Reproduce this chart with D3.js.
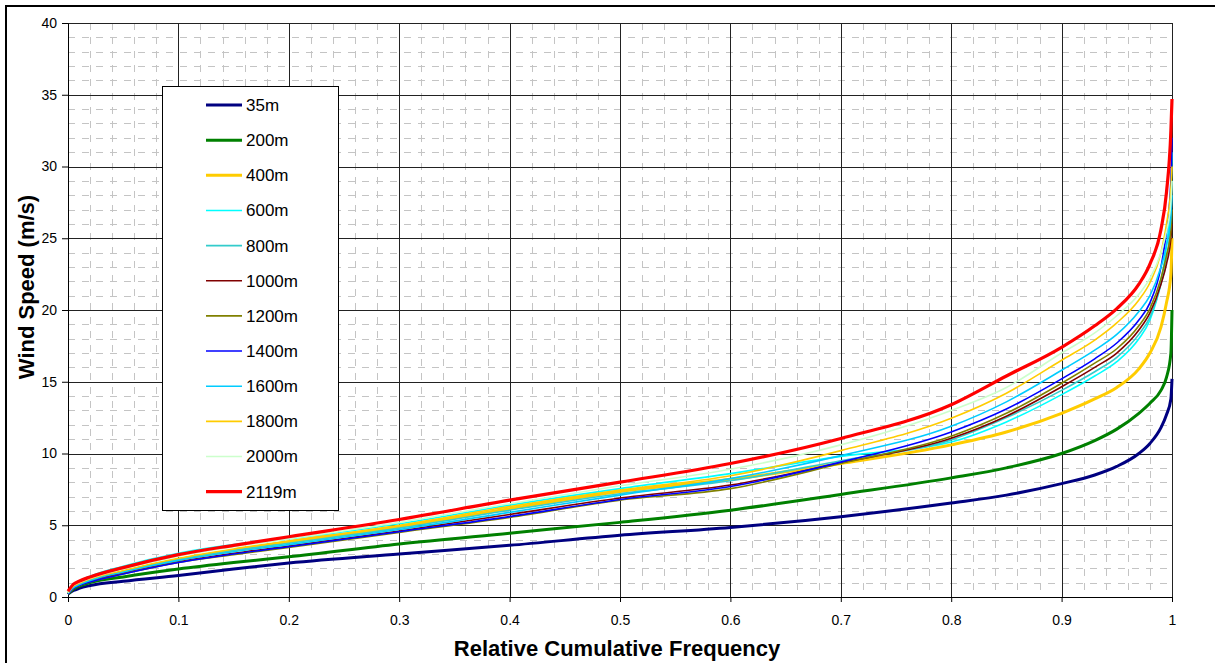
<!DOCTYPE html>
<html>
<head>
<meta charset="utf-8">
<script src="https://cdn.jsdelivr.net/npm/d3@7"></script>
<style>
  body { margin: 0; background: #fff; }
  svg { display: block; font-family: "Liberation Sans", Arial, sans-serif; }
</style>
</head>
<body>
<svg id="chart" width="1215" height="663"></svg>
<script>
// relative cumulative frequency at which each series was read
const freq = [0, 0.005, 0.01, 0.02, 0.05, 0.1, 0.15, 0.2, 0.3, 0.4, 0.5, 0.6, 0.7, 0.8, 0.85, 0.9, 0.93, 0.95, 0.97, 0.98, 0.99, 0.995, 0.999, 1];

const heights = ["35m", "200m", "400m", "600m", "800m", "1000m", "1200m", "1400m", "1600m", "1800m", "2000m", "2119m"];

const s35 = [0.2, 0.45, 0.6, 0.8, 1.1, 1.5, 1.95, 2.37, 3.0, 3.6, 4.3, 4.85, 5.6, 6.55, 7.1, 7.9, 8.5, 9.1, 10.0, 10.7, 11.8, 12.7, 13.8, 15.2];
const s200 = [0.2, 0.55, 0.75, 1.0, 1.4, 1.95, 2.4, 2.8, 3.7, 4.45, 5.2, 6.05, 7.15, 8.3, 9.0, 10.0, 10.9, 11.7, 12.8, 13.5, 14.4, 15.3, 17.0, 20.0];
const s400 = [0.25, 0.65, 0.85, 1.15, 1.75, 2.6, 3.25, 3.85, 4.9, 6.15, 7.35, 8.2, 9.3, 10.6, 11.5, 12.8, 13.8, 14.6, 15.9, 17.0, 18.8, 20.5, 22.5, 25.0];
const s600 = [0.3, 0.85, 1.1, 1.45, 2.15, 3.05, 3.65, 4.05, 5.1, 6.4, 7.55, 8.6, 9.8, 10.8, 12.2, 14.1, 15.4, 16.4, 18.0, 19.3, 22.0, 24.5, 28.0, 31.0];
const s800 = [0.25, 0.7, 0.9, 1.2, 1.8, 2.65, 3.25, 3.75, 4.8, 6.05, 7.2, 8.1, 9.5, 10.95, 12.5, 14.4, 15.7, 16.7, 18.3, 19.5, 21.8, 23.5, 26.5, 29.0];
const s1000 = [0.2, 0.6, 0.8, 1.1, 1.65, 2.45, 3.05, 3.55, 4.6, 5.75, 6.9, 7.8, 9.35, 11.06, 12.6, 14.65, 16.0, 17.0, 18.6, 19.8, 21.8, 23.2, 25.0, 26.0];
const s1200 = [0.2, 0.6, 0.8, 1.05, 1.6, 2.4, 2.95, 3.45, 4.5, 5.55, 6.75, 7.55, 9.3, 11.2, 12.8, 14.9, 16.3, 17.3, 18.9, 20.1, 22.2, 23.8, 25.5, 27.0];
const s1400 = [0.2, 0.6, 0.8, 1.05, 1.6, 2.4, 3.0, 3.5, 4.55, 5.6, 6.8, 7.7, 9.4, 11.5, 13.1, 15.2, 16.6, 17.7, 19.3, 20.5, 23.0, 25.5, 29.0, 32.0];
const s1600 = [0.25, 0.65, 0.85, 1.15, 1.75, 2.55, 3.15, 3.65, 4.7, 5.9, 7.1, 8.25, 9.85, 11.9, 13.6, 15.8, 17.2, 18.3, 19.9, 21.0, 23.0, 24.5, 26.5, 28.0];
const s1800 = [0.3, 0.75, 0.95, 1.25, 1.85, 2.7, 3.35, 3.9, 5.0, 6.3, 7.45, 8.45, 10.2, 12.45, 14.2, 16.5, 17.9, 19.1, 20.7, 21.9, 24.0, 26.0, 28.5, 30.0];
const s2000 = [0.3, 0.8, 1.0, 1.3, 1.95, 2.85, 3.5, 4.05, 5.2, 6.5, 7.75, 8.9, 10.6, 13.0, 14.6, 17.0, 18.4, 19.6, 21.1, 22.2, 24.0, 25.5, 27.5, 29.0];
const s2119 = [0.4, 0.9, 1.1, 1.4, 2.05, 2.95, 3.6, 4.2, 5.4, 6.75, 8.0, 9.3, 11.05, 13.4, 15.4, 17.4, 18.9, 20.1, 21.8, 23.2, 25.6, 28.2, 32.5, 34.7];

const xTicks = [0, 0.1, 0.2, 0.3, 0.4, 0.5, 0.6, 0.7, 0.8, 0.9, 1];
const yTicks = [0, 5, 10, 15, 20, 25, 30, 35, 40];

const seriesValues = [s35, s200, s400, s600, s800, s1000, s1200, s1400, s1600, s1800, s2000, s2119];
const colors = ["#000080", "#008000", "#ffcc00", "#00ffff", "#33cccc", "#800000", "#808000", "#0000ff", "#00ccff", "#ffcc00", "#ccffcc", "#ff0000"];
const widths = [3, 3, 3, 1.6, 1.6, 1.6, 1.6, 1.6, 1.6, 1.6, 1.6, 3.2];

const margin = { top: 23, right: 43, bottom: 66, left: 68 };
const width = 1215 - margin.left - margin.right;
const height = 663 - margin.top - margin.bottom;

const svg = d3.select("#chart");

// outer chart border
svg.append("rect")
  .attr("x", 6).attr("y", 6)
  .attr("width", 1230).attr("height", 680)
  .attr("fill", "#fff").attr("stroke", "#000").attr("stroke-width", 2);

const g = svg.append("g")
  .attr("transform", "translate(" + margin.left + "," + margin.top + ")");

const xScale = d3.scaleLinear().domain([0, 1]).range([0, width]);
const yScale = d3.scaleLinear().domain([0, 40]).range([height, 0]);

// minor dashed grid
const minorX = d3.range(0, 51).map((d) => d / 50).filter((d, i) => i % 5 !== 0);
const minorY = d3.range(0, 41).filter((d) => d % 5 !== 0);

g.append("g").selectAll("line").data(minorX).enter().append("line")
  .attr("x1", (d) => Math.round(xScale(d)) + 0.5)
  .attr("x2", (d) => Math.round(xScale(d)) + 0.5)
  .attr("y1", 0).attr("y2", height)
  .attr("stroke", "#c4c4c4").attr("stroke-dasharray", "7,7");

g.append("g").selectAll("line").data(minorY).enter().append("line")
  .attr("x1", 0).attr("x2", width)
  .attr("y1", (d) => Math.round(yScale(d)) + 0.5)
  .attr("y2", (d) => Math.round(yScale(d)) + 0.5)
  .attr("stroke", "#c4c4c4").attr("stroke-dasharray", "7,7");

// major grid
g.append("g").selectAll("line").data(xTicks).enter().append("line")
  .attr("x1", (d) => Math.round(xScale(d)) + 0.5)
  .attr("x2", (d) => Math.round(xScale(d)) + 0.5)
  .attr("y1", 0).attr("y2", height)
  .attr("stroke", "#222");

g.append("g").selectAll("line").data(yTicks).enter().append("line")
  .attr("x1", 0).attr("x2", width)
  .attr("y1", (d) => Math.round(yScale(d)) + 0.5)
  .attr("y2", (d) => Math.round(yScale(d)) + 0.5)
  .attr("stroke", "#222");

// axes
const xAxis = d3.axisBottom(xScale).tickValues(xTicks).tickFormat(d3.format("")).tickSize(5).tickSizeOuter(0).tickPadding(13);
const yAxis = d3.axisLeft(yScale).tickValues(yTicks).tickSize(6).tickSizeOuter(0).tickPadding(5);

const gX = g.append("g").attr("transform", "translate(0," + height + ")").call(xAxis);
const gY = g.append("g").call(yAxis);
[gX, gY].forEach((ax) => {
  ax.selectAll("path").attr("stroke", "#000");
  ax.selectAll(".tick line").attr("stroke", "#000");
  ax.selectAll("text").attr("font-size", 14).attr("fill", "#000")
    .attr("font-family", "'Liberation Sans', Arial, sans-serif");
});

// lines
const line = d3.line()
  .x((d) => xScale(d[0]))
  .y((d) => yScale(d[1]))
  .curve(d3.curveMonotoneX);

const chartBody = g.append("g");
seriesValues.forEach((vals, i) => {
  chartBody.append("path")
    .datum(freq.map((f, j) => [f, vals[j]]))
    .attr("d", line)
    .attr("fill", "none")
    .attr("stroke", colors[i])
    .attr("stroke-width", widths[i])
    .attr("stroke-linejoin", "round");
});

// legend
const legend = svg.append("g").attr("transform", "translate(162,86)");
legend.append("rect")
  .attr("x", 0.5).attr("y", 0.5)
  .attr("width", 176).attr("height", 424)
  .attr("fill", "#fff").attr("stroke", "#000");

const items = legend.selectAll(".item").data(heights).enter().append("g")
  .attr("transform", (_, i) => "translate(0," + (19 + i * 35.15) + ")");
items.append("line")
  .attr("x1", 44).attr("x2", 80)
  .attr("stroke", (_, i) => colors[i])
  .attr("stroke-width", (_, i) => widths[i]);
items.append("text")
  .attr("x", 84).attr("dy", "0.35em")
  .attr("font-size", 17)
  .text((d) => d);

// axis titles
svg.append("text")
  .attr("x", 617).attr("y", 656)
  .attr("text-anchor", "middle")
  .attr("font-size", 22).attr("font-weight", "bold")
  .text("Relative Cumulative Frequency");

svg.append("text")
  .attr("transform", "translate(34,287) rotate(-90)")
  .attr("text-anchor", "middle")
  .attr("font-size", 22).attr("font-weight", "bold")
  .text("Wind Speed (m/s)");
</script>
</body>
</html>
